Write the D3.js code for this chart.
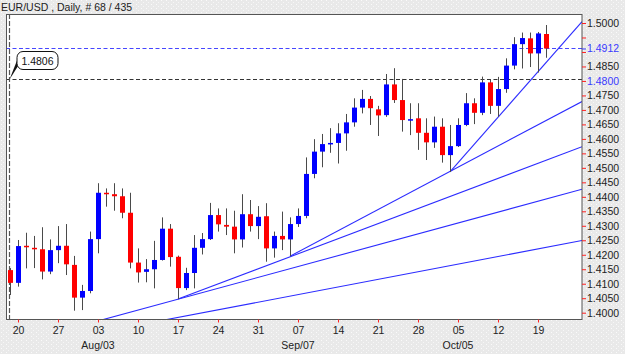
<!DOCTYPE html>
<html>
<head>
<meta charset="utf-8">
<script src="https://cdn.jsdelivr.net/npm/d3@7"></script>
<style>
    body { margin: 0; background: #ebebeb; }
    svg { display: block; font-family: "Liberation Sans", Arial, sans-serif; }
</style>
</head>
<body>
<div id="chart"></div>
<script>
// EUR/USD daily bars, 17 Jul - 20 Oct 2009 (weekdays only)
const days = d3.timeDay.range(new Date(2009, 6, 17), new Date(2009, 9, 21))
    .filter(d => d.getDay() % 6 !== 0);

const opens = [1.4147, 1.4103, 1.4231, 1.4224, 1.4219, 1.4142, 1.4216, 1.4231, 1.4165, 1.4052,
    1.4075, 1.4254, 1.4414, 1.4409, 1.4402, 1.4345, 1.4173, 1.4141, 1.4150, 1.4182,
    1.4290, 1.4193, 1.4085, 1.4137, 1.4224, 1.4254, 1.4337, 1.4303, 1.4297, 1.4253,
    1.4340, 1.4299, 1.4333, 1.4222, 1.4265, 1.4253, 1.4306, 1.4334, 1.4479, 1.4556,
    1.4582, 1.4586, 1.4619, 1.4657, 1.4708, 1.4738, 1.4702, 1.4682, 1.4788, 1.4734,
    1.4663, 1.4671, 1.4621, 1.4588, 1.4642, 1.4544, 1.4575, 1.4648, 1.4723, 1.4690,
    1.4795, 1.4714, 1.4772, 1.4853, 1.4927, 1.4947, 1.4895, 1.4962];
const highs = [1.4154, 1.4251, 1.4276, 1.4265, 1.4295, 1.4253, 1.4299, 1.4306, 1.4196, 1.4096,
    1.4280, 1.4447, 1.4429, 1.4447, 1.4429, 1.4414, 1.4222, 1.4185, 1.4248, 1.4329,
    1.4306, 1.4197, 1.4155, 1.4268, 1.4275, 1.4379, 1.4360, 1.4360, 1.4352, 1.4409,
    1.4389, 1.4368, 1.4378, 1.4280, 1.4349, 1.4329, 1.4360, 1.4536, 1.4599, 1.4617,
    1.4637, 1.4654, 1.4686, 1.4740, 1.4769, 1.4748, 1.4714, 1.4824, 1.4844, 1.4807,
    1.4723, 1.4723, 1.4671, 1.4677, 1.4671, 1.4648, 1.4671, 1.4758, 1.4740, 1.4815,
    1.4805, 1.4814, 1.4878, 1.4951, 1.4967, 1.4967, 1.4969, 1.4993];
const lows = [1.4061, 1.4090, 1.4153, 1.4154, 1.4115, 1.4133, 1.4171, 1.4130, 1.4007, 1.4009,
    1.4067, 1.4205, 1.4366, 1.4352, 1.4326, 1.4153, 1.4104, 1.4105, 1.4084, 1.4180,
    1.4159, 1.4047, 1.4078, 1.4084, 1.4201, 1.4251, 1.4280, 1.4268, 1.4205, 1.4225,
    1.4280, 1.4254, 1.4176, 1.4190, 1.4216, 1.4195, 1.4296, 1.4326, 1.4464, 1.4502,
    1.4552, 1.4515, 1.4559, 1.4642, 1.4688, 1.4648, 1.4610, 1.4676, 1.4724, 1.4625,
    1.4613, 1.4562, 1.4527, 1.4569, 1.4518, 1.4486, 1.4572, 1.4644, 1.4651, 1.4682,
    1.4686, 1.4676, 1.4759, 1.4840, 1.4843, 1.4848, 1.4829, 1.4880];
const closes = [1.4103, 1.4230, 1.4226, 1.4219, 1.4142, 1.4216, 1.4231, 1.4167, 1.4052, 1.4075,
    1.4254, 1.4414, 1.4409, 1.4402, 1.4345, 1.4173, 1.4139, 1.4150, 1.4182, 1.4290,
    1.4192, 1.4085, 1.4137, 1.4224, 1.4254, 1.4337, 1.4305, 1.4297, 1.4253, 1.4340,
    1.4299, 1.4331, 1.4222, 1.4265, 1.4253, 1.4306, 1.4334, 1.4479, 1.4556, 1.4582,
    1.4586, 1.4619, 1.4657, 1.4708, 1.4738, 1.4706, 1.4681, 1.4788, 1.4734, 1.4665,
    1.4668, 1.4621, 1.4588, 1.4642, 1.4544, 1.4575, 1.4648, 1.4723, 1.4690, 1.4795,
    1.4714, 1.4772, 1.4853, 1.4927, 1.4948, 1.4895, 1.4964, 1.4912];

// price axis labels (1.4950 hidden behind the 1.4912 marker)
const yTicks = [1.5000, 1.4850, 1.4800, 1.4750, 1.4700, 1.4650, 1.4600, 1.4550, 1.4500, 1.4450,
    1.4400, 1.4350, 1.4300, 1.4250, 1.4200, 1.4150, 1.4100, 1.4050, 1.4000];
const yTickMarks = d3.range(0, 21).map(k => +(1.4 + k * 0.005).toFixed(4));

// fan lines: [bar index, price] pairs
const fanLines = [
    [[10, 1.3964], [71.5, 1.4426]],
    [[18, 1.3968], [71.5, 1.4249]],
    [[21, 1.4047], [71.5, 1.4573]],
    [[35, 1.4195], [71.5, 1.4729]],
    [[55, 1.4486], [71.5, 1.5005]]
];
const lastPrice = 1.4912;
const cursorPrice = 1.4806;
const cursorBar = -0.15;

// 畫布
const width = 625, height = 354;
const plot = { left: 6, right: 582, top: 14, bottom: 319.5 };

const svg = d3.select("#chart").append("svg")
    .attr("width", width).attr("height", height);

// speckled grey background
const defs = svg.append("defs");
const pat = defs.append("pattern").attr("id", "speckle")
    .attr("width", 5).attr("height", 4).attr("patternUnits", "userSpaceOnUse");
pat.append("rect").attr("width", 5).attr("height", 4).attr("fill", "#e9e9e9");
pat.append("rect").attr("x", 1).attr("y", 0).attr("width", 1).attr("height", 1).attr("fill", "#fafafa");
pat.append("rect").attr("x", 3).attr("y", 2).attr("width", 1).attr("height", 1).attr("fill", "#f6f6f6");
defs.append("clipPath").attr("id", "plotClip").append("rect")
    .attr("x", plot.left).attr("y", plot.top)
    .attr("width", plot.right - plot.left).attr("height", plot.bottom - plot.top);

svg.append("rect").attr("width", width).attr("height", height).attr("fill", "url(#speckle)");
svg.append("rect")
    .attr("x", plot.left + 0.5).attr("y", plot.top + 0.5)
    .attr("width", plot.right - plot.left - 0.5).attr("height", plot.bottom - plot.top - 0.5)
    .attr("fill", "#fff");

// scales
const x = d3.scaleLinear([-0.5, 71.5], [plot.left, plot.right]);
const y = d3.scaleLinear([1.4, 1.5], [312.7, 23]);

const chart = svg.append("g").attr("clip-path", "url(#plotClip)");

// horizontal markers
chart.append("line")
    .attr("x1", plot.left).attr("x2", plot.right)
    .attr("y1", Math.round(y(lastPrice)) + 0.5).attr("y2", Math.round(y(lastPrice)) + 0.5)
    .attr("stroke", "#4646ff").attr("stroke-dasharray", "4,2.5");
chart.append("line")
    .attr("x1", plot.left).attr("x2", plot.right)
    .attr("y1", Math.round(y(cursorPrice)) + 0.5).attr("y2", Math.round(y(cursorPrice)) + 0.5)
    .attr("stroke", "#333").attr("stroke-dasharray", "4,2.5");
chart.append("line")
    .attr("x1", Math.round(x(cursorBar)) + 0.5).attr("x2", Math.round(x(cursorBar)) + 0.5)
    .attr("y1", plot.top).attr("y2", plot.bottom)
    .attr("stroke", "#555").attr("stroke-width", 1.2).attr("stroke-dasharray", "5,2");

// fan lines
const line = d3.line().x(d => x(d[0])).y(d => y(d[1]));
chart.selectAll(".fan").data(fanLines).join("path")
    .attr("class", "fan")
    .attr("d", line)
    .attr("fill", "none")
    .attr("stroke", "#2c2cff")
    .attr("stroke-width", 1.1);

// candles
const bars = d3.range(days.length).map(i => ({
    i, open: opens[i], high: highs[i], low: lows[i], close: closes[i]
}));

const candle = chart.selectAll(".candle").data(bars).join("g").attr("class", "candle");
candle.append("line")
    .attr("x1", d => Math.round(x(d.i)) + 0.5).attr("x2", d => Math.round(x(d.i)) + 0.5)
    .attr("y1", d => y(d.high)).attr("y2", d => y(d.low))
    .attr("stroke", "#4a4a4a");
candle.append("rect")
    .attr("x", d => Math.round(x(d.i)) - 2)
    .attr("width", 5)
    .attr("y", d => y(Math.max(d.open, d.close)))
    .attr("height", d => Math.max(1.5, Math.abs(y(d.open) - y(d.close))))
    .attr("fill", d => d.close >= d.open ? "#0000ff" : "#ff0000");

// plot frame
svg.append("rect")
    .attr("x", plot.left + 0.5).attr("y", plot.top + 0.5)
    .attr("width", plot.right - plot.left - 0.5).attr("height", plot.bottom - plot.top - 0.5)
    .attr("fill", "none").attr("stroke", "#555");

// price axis
const yAxis = svg.append("g")
    .attr("transform", `translate(${plot.right},0)`)
    .call(d3.axisRight(y).tickValues(yTickMarks).tickSize(4).tickFormat(""));
yAxis.select(".domain").remove();
yAxis.selectAll(".tick line").attr("stroke", "#ff2020");

const yLabels = svg.append("g")
    .attr("transform", `translate(${plot.right},0)`)
    .call(d3.axisRight(y).tickValues(yTicks).tickSize(0).tickPadding(5).tickFormat(d3.format(".4f")));
yLabels.select(".domain").remove();
yLabels.selectAll("text")
    .style("font-size", "10.5px")
    .attr("fill", d => d === 1.48 ? "#3a3aff" : "#222")
    .style("font-family", "Liberation Sans, Arial, sans-serif");

const lastLabel = svg.append("g")
    .attr("transform", `translate(${plot.right},0)`)
    .call(d3.axisRight(y).tickValues([lastPrice]).tickSize(4).tickPadding(1).tickFormat(d3.format(".4f")));
lastLabel.select(".domain").remove();
lastLabel.selectAll(".tick line").attr("stroke", "#3a3aff");
lastLabel.selectAll("text").style("font-size", "10.5px").attr("fill", "#3a3aff")
    .style("font-family", "Liberation Sans, Arial, sans-serif");

// time axis: Mondays
const mondays = d3.range(days.length).filter(i => days[i].getDay() === 1);
const xAxis = svg.append("g")
    .attr("transform", `translate(0,${plot.bottom})`)
    .call(d3.axisBottom(x).tickValues(mondays).tickSize(3).tickPadding(4)
        .tickFormat(i => d3.timeFormat("%d")(days[i])));
xAxis.select(".domain").remove();
xAxis.selectAll(".tick line").attr("stroke", "#ff2020");
xAxis.selectAll("text").style("font-size", "10.5px").attr("fill", "#222")
    .style("font-family", "Liberation Sans, Arial, sans-serif");

// month labels under the first Monday of each month
svg.append("g").selectAll("text")
    .data(mondays.filter(i => days[i].getDate() <= 7))
    .join("text")
    .attr("x", i => x(i))
    .attr("y", 349)
    .attr("text-anchor", "middle")
    .style("font-size", "10.5px")
    .attr("fill", "#222")
    .text(i => d3.timeFormat("%b/%d")(days[i]));

// title
svg.append("text")
    .attr("x", 1).attr("y", 11)
    .style("font-size", "10.5px")
    .attr("fill", "#222")
    .text(`EUR/USD , Daily, # ${days.length} / 435`);

// cursor callout
const cx = Math.round(x(cursorBar)) + 0.5, cy = Math.round(y(cursorPrice)) + 0.5;
svg.append("path")
    .attr("d", `M${cx},${cy} L${cx + 7.5},${cy - 19} L${cx + 9.5},${cy - 15} Z`)
    .attr("fill", "#111");
svg.append("rect")
    .attr("x", cx + 7.5).attr("y", cy - 28)
    .attr("width", 41).attr("height", 18).attr("rx", 6)
    .attr("fill", "#fff").attr("stroke", "#111");
svg.append("text")
    .attr("x", cx + 28).attr("y", cy - 15)
    .attr("text-anchor", "middle")
    .style("font-size", "10.5px")
    .attr("fill", "#111")
    .text(d3.format(".4f")(cursorPrice));
</script>
</body>
</html>
